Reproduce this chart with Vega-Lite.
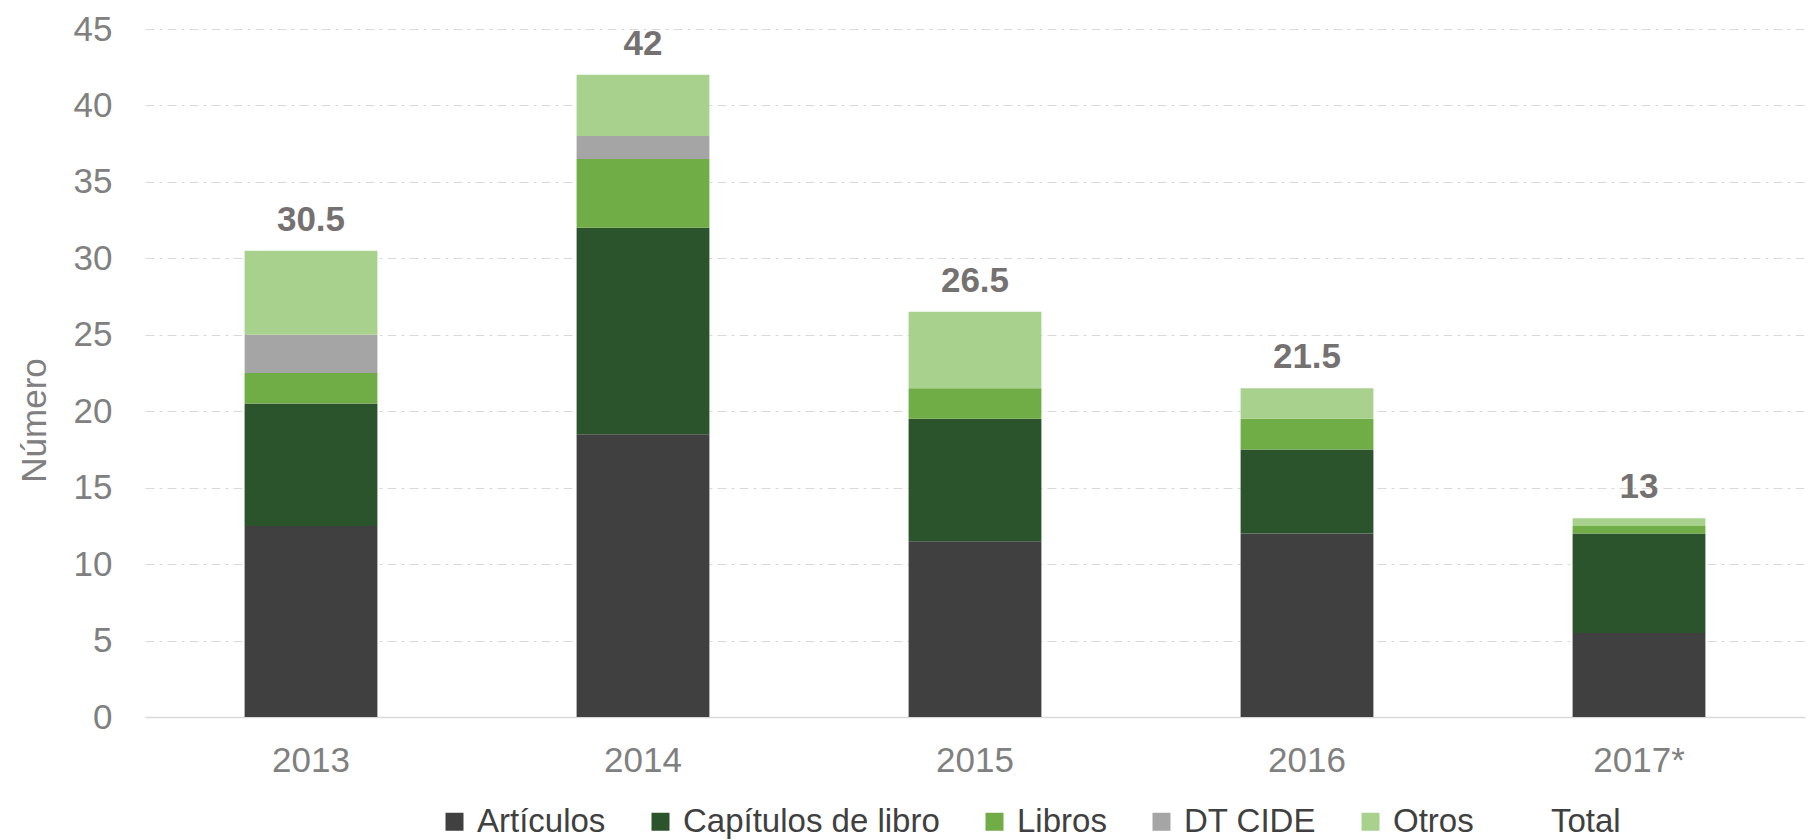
{
  "$schema": "https://vega.github.io/schema/vega-lite/v6.json",
  "width": 1660,
  "height": 688,
  "autosize": {"type": "none"},
  "padding": {"left": 145, "top": 29, "right": 14, "bottom": 123},
  "background": "white",
  "config": {
    "view": {"stroke": null},
    "font": "Liberation Sans"
  },
  "data": {
    "values": [
      {"anio": "2013", "tipo": "Artículos", "orden": 1, "valor": 12.5},
      {"anio": "2013", "tipo": "Capítulos de libro", "orden": 2, "valor": 8},
      {"anio": "2013", "tipo": "Libros", "orden": 3, "valor": 2},
      {"anio": "2013", "tipo": "DT CIDE", "orden": 4, "valor": 2.5},
      {"anio": "2013", "tipo": "Otros", "orden": 5, "valor": 5.5},
      {"anio": "2014", "tipo": "Artículos", "orden": 1, "valor": 18.5},
      {"anio": "2014", "tipo": "Capítulos de libro", "orden": 2, "valor": 13.5},
      {"anio": "2014", "tipo": "Libros", "orden": 3, "valor": 4.5},
      {"anio": "2014", "tipo": "DT CIDE", "orden": 4, "valor": 1.5},
      {"anio": "2014", "tipo": "Otros", "orden": 5, "valor": 4},
      {"anio": "2015", "tipo": "Artículos", "orden": 1, "valor": 11.5},
      {"anio": "2015", "tipo": "Capítulos de libro", "orden": 2, "valor": 8},
      {"anio": "2015", "tipo": "Libros", "orden": 3, "valor": 2},
      {"anio": "2015", "tipo": "DT CIDE", "orden": 4, "valor": 0},
      {"anio": "2015", "tipo": "Otros", "orden": 5, "valor": 5},
      {"anio": "2016", "tipo": "Artículos", "orden": 1, "valor": 12},
      {"anio": "2016", "tipo": "Capítulos de libro", "orden": 2, "valor": 5.5},
      {"anio": "2016", "tipo": "Libros", "orden": 3, "valor": 2},
      {"anio": "2016", "tipo": "DT CIDE", "orden": 4, "valor": 0},
      {"anio": "2016", "tipo": "Otros", "orden": 5, "valor": 2},
      {"anio": "2017*", "tipo": "Artículos", "orden": 1, "valor": 5.5},
      {"anio": "2017*", "tipo": "Capítulos de libro", "orden": 2, "valor": 6.5},
      {"anio": "2017*", "tipo": "Libros", "orden": 3, "valor": 0.5},
      {"anio": "2017*", "tipo": "DT CIDE", "orden": 4, "valor": 0},
      {"anio": "2017*", "tipo": "Otros", "orden": 5, "valor": 0.5}
    ]
  },
  "encoding": {
    "x": {
      "field": "anio",
      "type": "nominal",
      "sort": null,
      "scale": {"paddingInner": 0.6, "paddingOuter": 0.3},
      "axis": {
        "title": null,
        "labelAngle": 0,
        "labelFont": "Liberation Sans",
        "labelFontSize": 35,
        "labelColor": "#808080",
        "labelPadding": 26,
        "ticks": false,
        "domain": true,
        "domainColor": "#d9d9d9",
        "domainWidth": 1.5,
        "grid": false
      }
    }
  },
  "layer": [
    {
      "mark": {"type": "bar"},
      "encoding": {
        "y": {
          "field": "valor",
          "type": "quantitative",
          "stack": "zero",
          "scale": {"domain": [0, 45], "nice": false},
          "axis": {
            "title": "Número",
            "titleFont": "Liberation Sans",
            "titleFontSize": 35,
            "titleFontWeight": "normal",
            "titleColor": "#808080",
            "titleX": -93,
            "titleY": 391,
            "values": [0, 5, 10, 15, 20, 25, 30, 35, 40, 45],
            "labelFont": "Liberation Sans",
            "labelFontSize": 35,
            "labelColor": "#808080",
            "labelPadding": 33,
            "ticks": false,
            "domain": false,
            "grid": true,
            "gridColor": "#d9d9d9",
            "gridWidth": 1.2,
            "gridDash": [9, 5, 3, 5]
          }
        },
        "color": {
          "field": "tipo",
          "type": "nominal",
          "scale": {
            "domain": ["Artículos", "Capítulos de libro", "Libros", "DT CIDE", "Otros", "Total"],
            "range": ["#404040", "#2b542c", "#70ad47", "#a5a5a5", "#a9d18e", "transparent"]
          },
          "legend": {
            "title": null,
            "orient": "none",
            "direction": "horizontal",
            "legendX": 293,
            "legendY": 776,
            "symbolType": "square",
            "symbolSize": 324,
            "symbolStrokeWidth": 0,
            "labelFont": "Liberation Sans",
            "labelFontSize": 33,
            "labelColor": "#404040",
            "labelLimit": 0,
            "labelOffset": 6,
            "columnPadding": 38
          }
        },
        "order": {"field": "orden", "type": "quantitative"}
      }
    },
    {
      "transform": [
        {"aggregate": [{"op": "sum", "field": "valor", "as": "total"}], "groupby": ["anio"]}
      ],
      "mark": {
        "type": "text",
        "font": "Liberation Sans",
        "fontSize": 35,
        "fontWeight": "bold",
        "color": "#767171",
        "baseline": "alphabetic",
        "dy": -20
      },
      "encoding": {
        "y": {"field": "total", "type": "quantitative"},
        "text": {"field": "total", "type": "quantitative"}
      }
    }
  ]
}
